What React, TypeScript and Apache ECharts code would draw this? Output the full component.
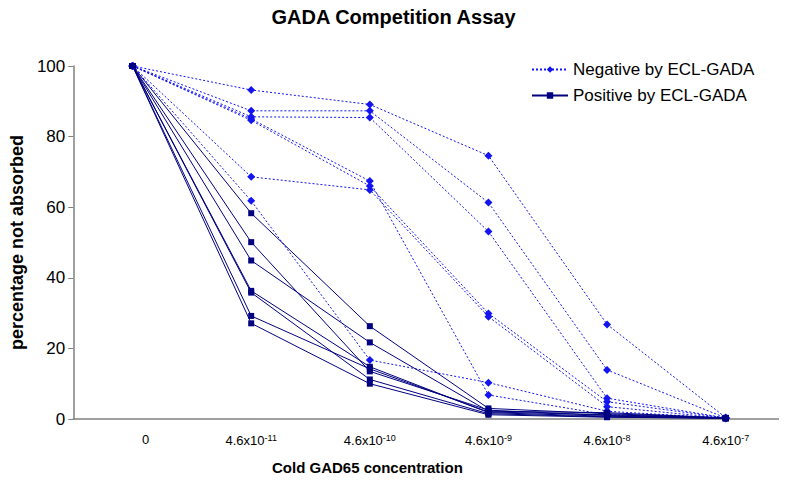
import React, { useEffect, useRef } from "react";
import * as echarts from "echarts";

const categories = ["0", "4.6x10-11", "4.6x10-10", "4.6x10-9", "4.6x10-8", "4.6x10-7"];
const yTicks = [0, 20, 40, 60, 80, 100];

const negative1 = [100, 93.2, 89.1, 74.6, 26.8, 0.4];
const negative2 = [100, 87.3, 87.3, 61.3, 13.9, 0.3];
const negative3 = [100, 85.6, 85.4, 53.1, 5.9, 0.3];
const negative4 = [100, 85.0, 67.4, 6.8, 1.2, 0.2];
const negative5 = [100, 84.6, 66.0, 29.9, 4.9, 0.3];
const negative6 = [100, 68.6, 64.9, 29.0, 3.5, 0.2];
const negative7 = [100, 61.8, 16.7, 10.3, 2.2, 0.2];

const positive1 = [100, 58.3, 26.3, 3.0, 1.5, 0.3];
const positive2 = [100, 50.1, 13.5, 2.5, 1.0, 0.2];
const positive3 = [100, 44.9, 21.7, 2.2, 1.8, 0.3];
const positive4 = [100, 36.3, 14.8, 1.8, 0.8, 0.2];
const positive5 = [100, 35.8, 11.2, 1.5, 0.6, 0.2];
const positive6 = [100, 29.2, 14.2, 2.0, 1.2, 0.3];
const positive7 = [100, 27.1, 10.0, 1.2, 0.5, 0.2];

const negatives = [negative1, negative2, negative3, negative4, negative5, negative6, negative7];
const positives = [positive1, positive2, positive3, positive4, positive5, positive6, positive7];

const NEG_NAME = "Negative by ECL-GADA";
const POS_NAME = "Positive by ECL-GADA";
const FONT = "Liberation Sans, Arial, sans-serif";

export default function App() {
  const ref = useRef<HTMLDivElement>(null);
  useEffect(() => {
    if (!ref.current) return;
    const chart = echarts.init(ref.current, undefined, { renderer: "svg" });
    const negSeries = negatives.map((d) => ({
      name: NEG_NAME,
      type: "line",
      data: d,
      symbol: "diamond",
      symbolSize: 8,
      itemStyle: { color: "#1414f0" },
      lineStyle: { color: "#1414f0", width: 1, type: [2, 2] },
      z: 2,
    }));
    const posSeries = positives.map((d) => ({
      name: POS_NAME,
      type: "line",
      data: d,
      symbol: "rect",
      symbolSize: 6,
      itemStyle: { color: "#000080" },
      lineStyle: { color: "#000080", width: 1, type: "solid" },
      z: 3,
    }));
    chart.setOption({
      animation: false,
      backgroundColor: "#ffffff",
      textStyle: { fontFamily: FONT },
      title: {
        text: "GADA Competition Assay",
        left: "center",
        top: 2,
        textStyle: { fontFamily: FONT, fontSize: 20, fontWeight: "bold", color: "#000" },
      },
      legend: {
        orient: "vertical",
        left: 526,
        top: 56,
        itemWidth: 36,
        itemHeight: 8,
        itemGap: 9,
        data: [NEG_NAME, POS_NAME],
        textStyle: { fontFamily: FONT, fontSize: 17, color: "#000" },
      },
      grid: { left: 70, right: 2, top: 66, bottom: 64, containLabel: false },
      xAxis: {
        type: "category",
        data: categories,
        boundaryGap: true,
        axisLine: { lineStyle: { color: "#808080", width: 1.5 } },
        axisTick: { show: false },
        axisLabel: {
          margin: 14,
          formatter: (v: string) => {
            if (v === "0") return "{z|0}";
            const parts = v.split("x10");
            return "{a|" + parts[0] + "x10}{s|" + parts[1] + "}";
          },
          rich: {
            z: { fontSize: 13, color: "#000", fontFamily: FONT, padding: [0, 0, 0, 26] },
            a: { fontSize: 13, color: "#000", fontFamily: FONT },
            s: { fontSize: 9, color: "#000", fontFamily: FONT, verticalAlign: "top", padding: [0, 0, 6, 0] },
          },
        },
      },
      yAxis: {
        type: "value",
        min: 0,
        max: 100,
        interval: 20,
        name: "percentage not absorbed",
        nameLocation: "middle",
        nameGap: 40,
        nameTextStyle: { fontFamily: FONT, fontSize: 18, fontWeight: "bold", color: "#000" },
        axisLine: { show: true, lineStyle: { color: "#808080", width: 1.5 } },
        axisTick: { show: true, length: 5, lineStyle: { color: "#808080" } },
        axisLabel: {
          fontSize: 17,
          color: "#000",
          fontFamily: FONT,
          margin: 8,
          formatter: (v: number) => (yTicks.indexOf(v) >= 0 ? String(v) : ""),
        },
        splitLine: { show: false },
      },
      graphic: [
        {
          type: "text",
          left: 272,
          top: 460,
          style: {
            text: "Cold GAD65 concentration",
            fontFamily: FONT,
            fontSize: 15,
            fontWeight: "bold",
            fill: "#000",
          },
        },
      ],
      series: [...negSeries, ...posSeries],
    });
    return () => chart.dispose();
  }, []);
  return <div ref={ref} style={{ width: 787, height: 483, margin: -8 }} />;
}
